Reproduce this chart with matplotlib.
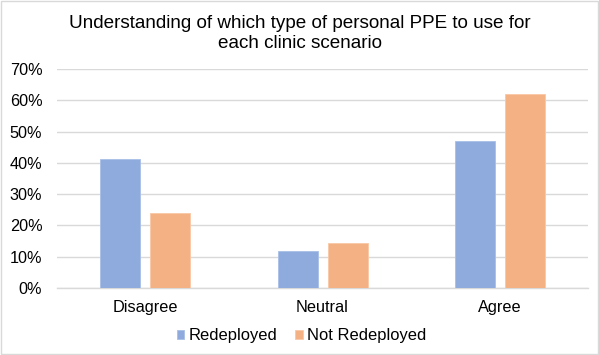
import numpy as np
import matplotlib
matplotlib.use("Agg")
import matplotlib.pyplot as plt
from matplotlib.patches import Rectangle
from matplotlib.ticker import PercentFormatter

# --- Data ---
categories   = ["Disagree", "Neutral", "Agree"]
redeployed   = [0.413, 0.117, 0.471]
not_redeploy = [0.239, 0.143, 0.620]
series_names = ["Redeployed", "Not Redeployed"]

BLUE   = "#8FAADC"
ORANGE = "#F4B183"
GRID_C = "#D9D9D9"
TXT    = "#000000"

plt.rcParams["font.family"] = ["Liberation Sans", "DejaVu Sans"]

fig = plt.figure(figsize=(5.99, 3.55), dpi=100, facecolor="white")
ax = fig.add_axes([0.095, 0.189, 0.887, 0.616])

x = np.arange(len(categories))
w = 0.226
off = 0.141
ax.bar(x - off, redeployed, w, color=BLUE, edgecolor="#A9BFE6", linewidth=0.6,
       label=series_names[0], zorder=3)
ax.bar(x + off, not_redeploy, w, color=ORANGE, edgecolor="#F8C8A5", linewidth=0.6,
       label=series_names[1], zorder=3)

ax.set_xlim(-0.5, len(categories) - 0.5)
ax.set_ylim(0, 0.7)
ax.set_yticks(np.arange(0, 0.71, 0.1))
ax.yaxis.set_major_formatter(PercentFormatter(1.0, decimals=0))
ax.grid(axis="y", color=GRID_C, linewidth=1.0, zorder=0)
for s in ("top", "right", "left"):
    ax.spines[s].set_visible(False)
ax.spines["bottom"].set_color(GRID_C)
ax.spines["bottom"].set_linewidth(1.0)
ax.set_xticks(x)
ax.set_xticklabels(categories)
ax.tick_params(axis="both", length=0, labelsize=11.7, colors=TXT)
ax.tick_params(axis="y", pad=10.5)
ax.tick_params(axis="x", pad=9)

fig.text(0.5, 0.905, "Understanding of which type of personal PPE to use for\neach clinic scenario",
         ha="center", va="center", fontsize=13.6, color=TXT, linespacing=1.25)

leg = fig.legend(loc="center", bbox_to_anchor=(0.503, 0.055), ncol=2, frameon=False,
                 fontsize=11.9, handlelength=0.45, handleheight=0.45, handletextpad=0.25,
                 columnspacing=1.1)

# light frame around the chart area
fig.patches.append(Rectangle((0.002, 0.003), 0.996, 0.994, transform=fig.transFigure,
                             fill=False, edgecolor="#D9D9D9", linewidth=1.0))

fig.savefig("out.png", dpi=100, facecolor="white")
